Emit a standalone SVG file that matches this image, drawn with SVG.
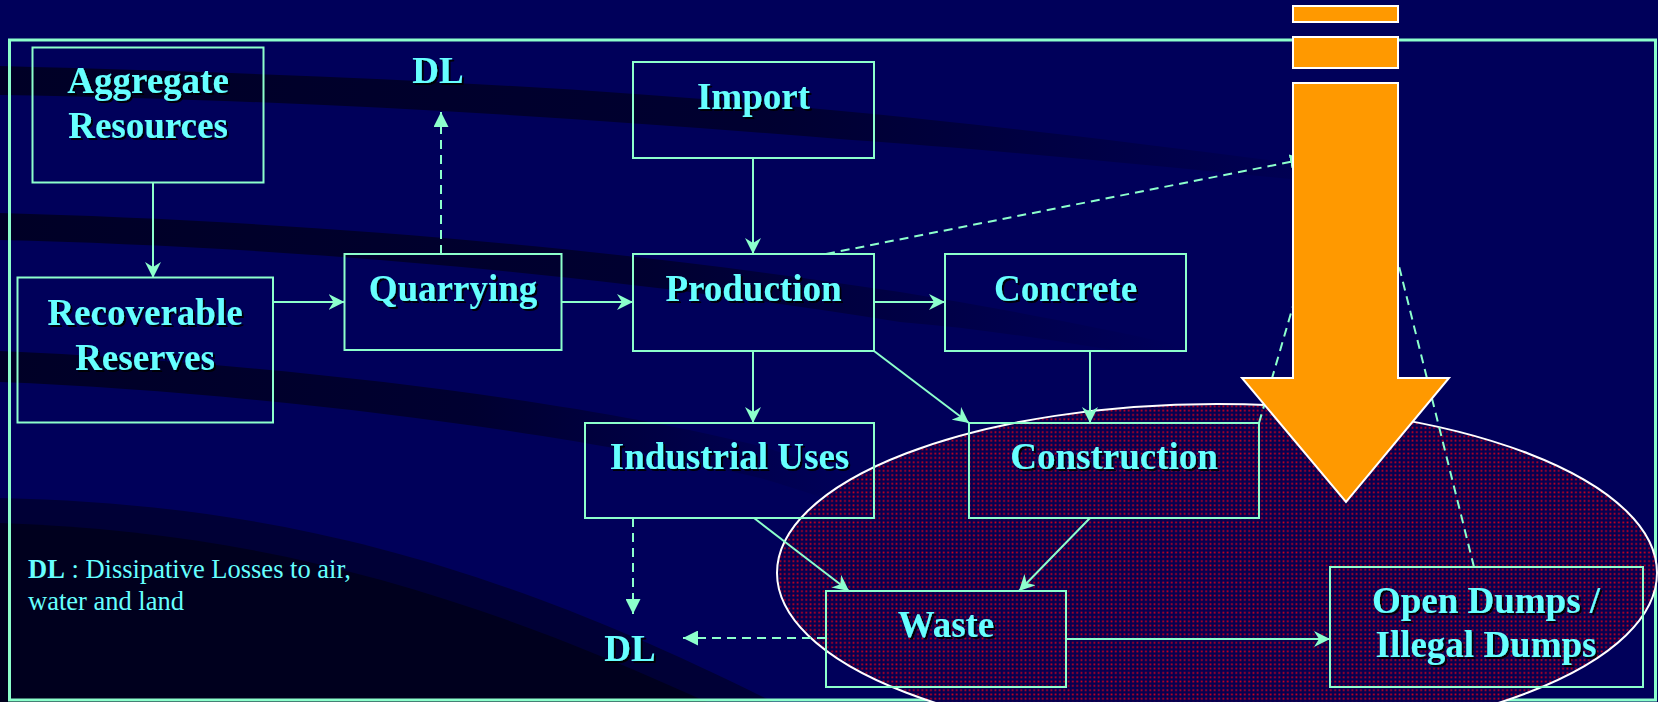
<svg xmlns="http://www.w3.org/2000/svg" width="1658" height="702" viewBox="0 0 1658 702">
  <defs>
    <style>
      .box { fill: none; stroke: #8cffcc; stroke-width: 2; }
      .link { fill: none; stroke: #8cffcc; stroke-width: 2; }
      .dash { fill: none; stroke: #8cffcc; stroke-width: 2; stroke-dasharray: 9 6; }
      .lbl { font-family: "Liberation Serif", "Times New Roman", serif; font-weight: bold; font-size: 37px; fill: #66ffff; text-anchor: middle; filter: url(#shadow); }
      .note { font-family: "Liberation Serif", "Times New Roman", serif; font-size: 26.5px; fill: #66ffff; }
      .block { fill: #ff9900; stroke: #ffffff; stroke-width: 2; }
    </style>
    <filter id="shadow" x="-10%" y="-30%" width="120%" height="160%">
      <feDropShadow dx="2" dy="2" stdDeviation="0.4" flood-color="#000000" flood-opacity="0.9"/>
    </filter>
    <marker id="barb" viewBox="0 0 16 16" refX="16" refY="8" markerWidth="16" markerHeight="16" markerUnits="userSpaceOnUse" orient="auto">
      <path d="M0,0 L16,8 L0,16 L5,8 Z" fill="#8cffcc"/>
    </marker>
    <marker id="tri" viewBox="0 0 15 15" refX="15" refY="7.5" markerWidth="15" markerHeight="15" markerUnits="userSpaceOnUse" orient="auto">
      <path d="M0,0 L15,7.5 L0,15 Z" fill="#8cffcc"/>
    </marker>
    <!-- red dot screen used to fill the waste zone -->
    <pattern id="dots" width="4.3" height="4.3" patternUnits="userSpaceOnUse">
      <rect width="4.3" height="4.3" fill="#060050"/>
      <rect x="1.3" y="1.3" width="1.7" height="1.7" fill="#d8001a"/>
    </pattern>
    <linearGradient id="fadeBand" x1="0" y1="0" x2="1" y2="0">
      <stop offset="0" stop-color="#000026" stop-opacity="1"/>
      <stop offset="0.55" stop-color="#000026" stop-opacity="0.8"/>
      <stop offset="1" stop-color="#000026" stop-opacity="0"/>
    </linearGradient>
  </defs>

  <!-- background with dark swooshes -->
  <g id="background">
    <rect width="1658" height="702" fill="#00005a"/>
    <path d="M0,66 C300,74 560,84 852,112 C1000,126 1200,150 1400,178 L1400,190 C1200,170 1000,150 852,140 C560,116 300,100 0,95 Z" fill="url(#fadeBand)"/>
    <path d="M0,213 C250,220 560,240 900,292 C1000,308 1100,328 1180,345 L1180,362 C1100,348 1000,330 900,322 C560,268 250,246 0,240 Z" fill="url(#fadeBand)"/>
    <path d="M0,351 C250,362 560,396 760,446 C800,458 830,470 860,482 L860,510 C830,500 800,490 760,478 C560,430 250,392 0,382 Z" fill="url(#fadeBand)"/>
    <path d="M0,498 C240,504 460,545 773,702 L0,702 Z" fill="#000036"/>
    <path d="M0,523 C250,532 450,585 707,702 L0,702 Z" fill="#00001e"/>
  </g>

  <!-- outer frame -->
  <rect id="frame" x="9.5" y="40" width="1646" height="660" fill="none" stroke="#8cffcc" stroke-width="3"/>

  <!-- waste zone highlight -->
  <ellipse id="waste-zone" cx="1217" cy="573" rx="440" ry="169" fill="url(#dots)" stroke="#ffffff" stroke-width="2"/>

  <g id="connectors">
    <line class="link" x1="153" y1="182" x2="153" y2="278" marker-end="url(#barb)"/>
    <line class="link" x1="273" y1="302" x2="344.5" y2="302" marker-end="url(#barb)"/>
    <line class="link" x1="561" y1="302" x2="633" y2="302" marker-end="url(#barb)"/>
    <line class="link" x1="753" y1="158" x2="753" y2="254" marker-end="url(#barb)"/>
    <line class="link" x1="874" y1="302" x2="945" y2="302" marker-end="url(#barb)"/>
    <line class="link" x1="753" y1="351" x2="753" y2="423" marker-end="url(#barb)"/>
    <line class="link" x1="874" y1="351" x2="969" y2="423" marker-end="url(#barb)"/>
    <line class="link" x1="1090" y1="351" x2="1090" y2="423" marker-end="url(#barb)"/>
    <line class="link" x1="754" y1="518" x2="849" y2="591" marker-end="url(#barb)"/>
    <line class="link" x1="1090" y1="518" x2="1019" y2="591" marker-end="url(#barb)"/>
    <line class="link" x1="1066" y1="639" x2="1330" y2="639" marker-end="url(#barb)"/>

    <line class="dash" x1="441" y1="254" x2="441" y2="112" marker-end="url(#tri)"/>
    <line class="dash" x1="633" y1="518" x2="633" y2="614" marker-end="url(#tri)"/>
    <line class="dash" x1="826" y1="638" x2="683" y2="638" marker-end="url(#tri)"/>
    <line class="dash" x1="826" y1="254" x2="1305" y2="159" marker-end="url(#tri)"/>
    <line class="dash" x1="1259" y1="423" x2="1300" y2="282"/>
    <line class="dash" x1="1474" y1="567" x2="1392" y2="238"/>
  </g>

  <g id="aggregate-resources">
    <rect class="box" x="32.5" y="47.5" width="231" height="135"/>
    <text class="lbl" x="148" y="93">Aggregate</text>
    <text class="lbl" x="148" y="138">Resources</text>
  </g>
  <g id="recoverable-reserves">
    <rect class="box" x="17.5" y="277.5" width="255.5" height="145"/>
    <text class="lbl" x="145" y="325">Recoverable</text>
    <text class="lbl" x="145" y="370">Reserves</text>
  </g>
  <g id="quarrying">
    <rect class="box" x="344.5" y="254" width="217" height="96"/>
    <text class="lbl" x="453" y="301">Quarrying</text>
  </g>
  <g id="dl-top">
    <text class="lbl" x="438" y="83">DL</text>
  </g>
  <g id="import">
    <rect class="box" x="633" y="62" width="241" height="96"/>
    <text class="lbl" x="753.5" y="109">Import</text>
  </g>
  <g id="production">
    <rect class="box" x="633" y="254" width="241" height="97"/>
    <text class="lbl" x="753.5" y="301">Production</text>
  </g>
  <g id="concrete">
    <rect class="box" x="945" y="254" width="241" height="97"/>
    <text class="lbl" x="1065.5" y="301">Concrete</text>
  </g>
  <g id="industrial-uses">
    <rect class="box" x="585" y="423" width="289" height="95"/>
    <text class="lbl" x="729.5" y="469">Industrial Uses</text>
  </g>
  <g id="construction">
    <rect class="box" x="969" y="423" width="290" height="95"/>
    <text class="lbl" x="1114" y="469">Construction</text>
  </g>
  <g id="waste">
    <rect class="box" x="826" y="591" width="240" height="96"/>
    <text class="lbl" x="946" y="637">Waste</text>
  </g>
  <g id="open-dumps">
    <rect class="box" x="1330" y="567" width="313" height="120"/>
    <text class="lbl" x="1486" y="613">Open Dumps /</text>
    <text class="lbl" x="1486" y="657">Illegal Dumps</text>
  </g>
  <g id="dl-bottom">
    <text class="lbl" x="630" y="661">DL</text>
  </g>

  <g id="legend">
    <text class="note" x="28" y="578"><tspan font-weight="bold">DL</tspan> : Dissipative Losses to air,</text>
    <text class="note" x="28" y="610">water and land</text>
  </g>

  <!-- big downward block arrow -->
  <g id="block-arrow">
    <rect class="block" x="1293" y="6" width="105" height="16"/>
    <rect class="block" x="1293" y="37" width="105" height="31"/>
    <polygon class="block" points="1293,83 1398,83 1398,378 1449,378 1346,502 1242,378 1293,378"/>
  </g>
</svg>
